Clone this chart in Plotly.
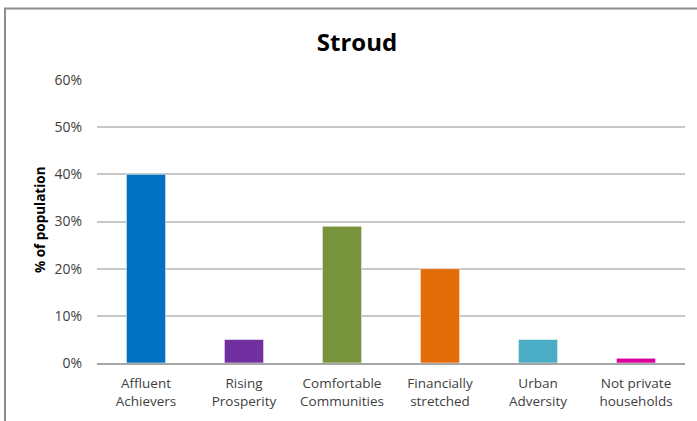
import plotly.graph_objects as go

categories = ["Affluent<br>Achievers", "Rising<br>Prosperity", "Comfortable<br>Communities",
              "Financially<br>stretched", "Urban<br>Adversity", "Not private<br>households"]
values = [0.40, 0.05, 0.29, 0.20, 0.05, 0.01]
colors = ["#0070C0", "#7030A0", "#77933C", "#E36C09", "#4BACC6", "#D9009B"]
y_ticks = [0, 0.1, 0.2, 0.3, 0.4, 0.5, 0.6]

W, H = 697, 421
L, R, T, B = 97, 12, 80, 58
pw, ph = W - L - R, H - T - B

def px_x(p):
    return (p - L) / pw

def px_y(p):
    return (H - B - p) / ph

fig = go.Figure()
fig.add_trace(go.Bar(
    x=categories, y=values,
    marker=dict(color=colors, line=dict(color="rgba(255,255,255,0.55)", width=1)),
    width=0.4,
))

fig.update_layout(
    width=W, height=H,
    margin=dict(l=L, r=R, t=T, b=B),
    paper_bgcolor="white", plot_bgcolor="white",
    showlegend=False,
    font=dict(family="Open Sans, Noto Sans, sans-serif", color="#404040", size=13),
    title=dict(text="<b>Stroud</b>", x=357 / W, xref="container", xanchor="center",
               y=1 - 43 / H, yref="container", yanchor="middle",
               font=dict(size=24, color="#000000", family="Open Sans, sans-serif")),
    xaxis=dict(showgrid=False, showline=True, linecolor="#A6A6A6", linewidth=1.5,
               tickfont=dict(size=13.5, color="#404040"), ticks="", fixedrange=True,
               ticklabelstandoff=7),
    yaxis=dict(range=[0, 0.6], tickvals=y_ticks, tickformat=".0%",
               showgrid=True, gridcolor="#C8C8C8", gridwidth=1.5,
               showline=False, zeroline=False, ticks="",
               ticklabelstandoff=14, fixedrange=True,
               tickfont=dict(size=14, color="#404040")),
    bargap=0.6,
)

fig.add_annotation(text="<b>% of population</b>", xref="paper", yref="paper",
                   x=px_x(40), y=px_y(220), textangle=-90, showarrow=False,
                   font=dict(size=13.5, color="#000000"), xanchor="center", yanchor="middle")

# chart frame
fig.add_shape(type="rect", xref="paper", yref="paper",
              x0=px_x(5), x1=px_x(705), y0=px_y(430), y1=px_y(8.5),
              line=dict(color="#8C8C8C", width=2), fillcolor="rgba(0,0,0,0)", layer="below")

fig.write_html("out.html", config={"displayModeBar": False},
               post_script="document.body.style.margin='0';document.body.style.overflow='hidden';")
